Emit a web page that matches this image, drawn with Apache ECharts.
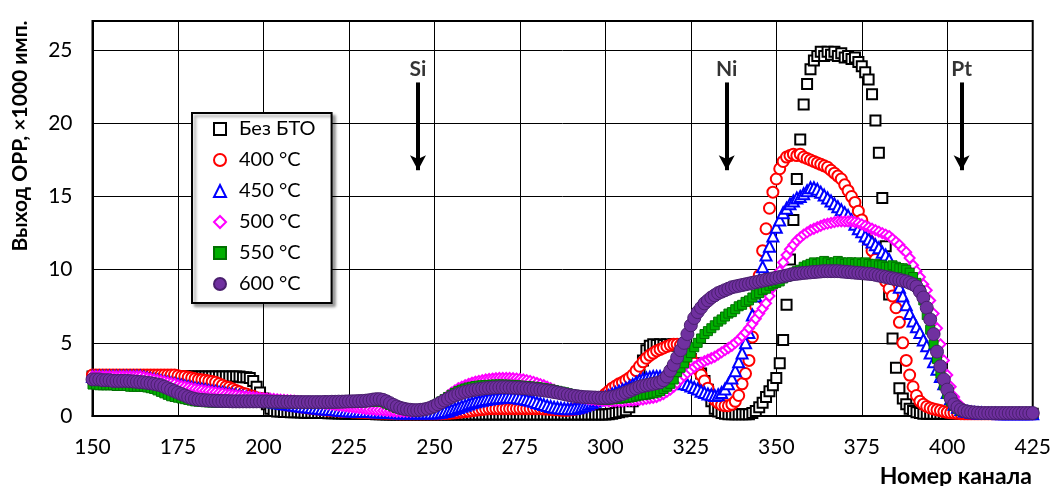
<!DOCTYPE html>
<html><head><meta charset="utf-8">
<script src="https://cdn.jsdelivr.net/npm/echarts@6/dist/echarts.min.js"></script>
<style>html,body{margin:0;padding:0;background:#fff}#c{width:1054px;height:486px}</style>
</head><body><div id="c"></div>
<script>
const FONT = "Lato, 'Open Sans', 'DejaVu Sans', sans-serif";
const firstChannel = 150, lastChannel = 425;
const channels = [];
for (let c = firstChannel; c <= lastChannel; c++) channels.push(c);
const seriesNames = ['Без БТО', '400 °C', '450 °C', '500 °C', '550 °C', '600 °C'];
const xAxisTitle = 'Номер канала';
const yAxisTitle = 'Выход ОРР, ×1000 имп.';
const elementLabels = ['Si', 'Ni', 'Pt'];
const elementChannels = [245.2, 335.5, 404.2];

// values per channel 150..425 (25 per row)
const bezBTO = [
2.7,2.7,2.7,2.7,2.7, 2.7,2.7,2.7,2.7,2.7, 2.7,2.7,2.7,2.7,2.7, 2.7,2.7,2.7,2.7,2.7, 2.7,2.7,2.7,2.7,2.7,
2.7,2.7,2.7,2.7,2.7, 2.7,2.7,2.7,2.7,2.7, 2.7,2.7,2.7,2.7,2.7, 2.7,2.7,2.7,2.7,2.65, 2.65,2.6,2.4,2.0,1.6,
1.2,0.8,0.5,0.35,0.3, 0.3,0.28,0.27,0.26,0.25, 0.25,0.24,0.23,0.22,0.22, 0.21,0.2,0.2,0.2,0.19, 0.18,0.18,0.17,0.17,0.16,
0.15,0.15,0.15,0.14,0.14, 0.13,0.13,0.13,0.12,0.12, 0.12,0.11,0.11,0.11,0.1, 0.1,0.1,0.1,0.1,0.1, 0.1,0.1,0.1,0.1,0.1,
0.1,0.1,0.1,0.1,0.1, 0.1,0.1,0.1,0.1,0.1, 0.1,0.1,0.1,0.1,0.1, 0.1,0.1,0.1,0.1,0.1, 0.1,0.1,0.1,0.1,0.1,
0.1,0.1,0.1,0.1,0.1, 0.1,0.1,0.1,0.1,0.1, 0.1,0.1,0.1,0.1,0.1, 0.1,0.1,0.1,0.1,0.1, 0.1,0.1,0.1,0.1,0.1,
0.1,0.12,0.15,0.2,0.25, 0.3,0.4,0.6,1.0,1.8, 2.8,3.8,4.5,4.8,4.9, 4.85,4.9,4.85,4.9,4.85, 4.9,4.8,4.7,4.5,4.2,
3.9,3.6,3.3,2.9,2.4, 1.8,1.0,0.5,0.3,0.2, 0.15,0.12,0.12,0.12,0.12, 0.12,0.12,0.12,0.2,0.35, 0.6,0.9,1.3,1.7,2.1,
2.6,3.6,5.2,7.6,10.7, 13.4,16.2,18.9,21.3,22.7, 23.7,24.3,24.6,24.9,24.6, 24.9,24.7,24.9,24.6,24.8, 24.5,24.6,24.4,24.5,24.2,
23.9,23.5,23.0,22.0,20.2, 18.0,14.9,11.6,8.3,5.3, 3.3,1.9,1.2,0.8,0.5, 0.35,0.25,0.2,0.15,0.15, 0.15,0.15,0.15,0.15,0.15,
0.15,0.15,0.15,0.15,0.15, 0.15,0.15,0.15,0.15,0.15, 0.15,0.15,0.15,0.15,0.15, 0.15,0.15,0.15,0.15,0.15, 0.15,0.15,0.15,0.15,0.15,
0.15];

const t400 = [
2.8,2.8,2.8,2.8,2.8, 2.8,2.8,2.8,2.8,2.8, 2.8,2.8,2.8,2.8,2.8, 2.8,2.8,2.8,2.8,2.8, 2.8,2.8,2.8,2.8,2.8,
2.75,2.7,2.7,2.65,2.6, 2.55,2.5,2.48,2.45,2.4, 2.35,2.3,2.2,2.1,2.0, 1.95,1.85,1.75,1.65,1.55, 1.5,1.4,1.35,1.25,1.2,
1.15,1.1,1.0,0.95,0.9, 0.85,0.8,0.75,0.72,0.7, 0.65,0.62,0.6,0.55,0.52, 0.5,0.47,0.45,0.42,0.4, 0.38,0.36,0.34,0.32,0.3,
0.3,0.28,0.27,0.26,0.25, 0.24,0.23,0.22,0.21,0.2, 0.2,0.19,0.18,0.17,0.16, 0.15,0.15,0.15,0.15,0.15, 0.15,0.15,0.15,0.15,0.15,
0.15,0.15,0.16,0.17,0.18, 0.2,0.22,0.25,0.28,0.3, 0.33,0.36,0.4,0.42,0.45, 0.47,0.5,0.5,0.5,0.5, 0.5,0.5,0.5,0.5,0.5,
0.5,0.5,0.5,0.5,0.5, 0.5,0.5,0.48,0.47,0.45, 0.43,0.42,0.4,0.4,0.4, 0.42,0.45,0.5,0.55,0.62, 0.7,0.8,0.95,1.1,1.3,
1.5,1.7,1.9,2.05,2.2, 2.3,2.45,2.6,2.8,3.1, 3.4,3.7,3.95,4.15,4.3, 4.45,4.55,4.65,4.75,4.85, 4.9,4.9,4.85,4.7,4.4,
4.0,3.6,3.2,2.8,2.4, 1.9,1.4,1.1,0.9,0.75, 0.7,0.7,0.8,1.0,1.4, 2.2,2.9,3.8,5.4,7.5, 9.6,11.3,12.8,14.2,15.3,
16.2,16.9,17.4,17.7,17.8, 17.9,17.8,17.9,17.7,17.6, 17.5,17.4,17.3,17.2,17.1, 17.0,16.8,16.6,16.4,16.2, 15.8,15.4,15.0,14.6,14.0,
13.4,12.7,12.0,11.3,10.7, 10.1,9.6,9.2,8.7,8.2, 7.4,6.4,5.0,3.8,2.8, 2.0,1.4,1.0,0.8,0.65, 0.55,0.48,0.42,0.37,0.3,
0.25,0.22,0.2,0.18,0.16, 0.15,0.15,0.15,0.15,0.15, 0.15,0.15,0.15,0.15,0.15, 0.15,0.15,0.15,0.15,0.15, 0.15,0.15,0.15,0.15,0.15,
0.15];

const t450 = [
2.7,2.7,2.7,2.7,2.7, 2.7,2.7,2.7,2.7,2.7, 2.7,2.7,2.7,2.7,2.7, 2.65,2.6,2.55,2.5,2.45, 2.4,2.35,2.3,2.25,2.2,
2.15,2.1,2.05,2.0,1.95, 1.9,1.87,1.83,1.8,1.75, 1.7,1.67,1.63,1.6,1.55, 1.5,1.47,1.43,1.4,1.35, 1.3,1.27,1.23,1.2,1.15,
1.1,1.05,1.0,0.95,0.9, 0.87,0.83,0.8,0.77,0.73, 0.7,0.67,0.64,0.61,0.58, 0.55,0.53,0.5,0.48,0.46, 0.44,0.42,0.4,0.38,0.36,
0.35,0.34,0.33,0.32,0.31, 0.3,0.3,0.29,0.28,0.27, 0.26,0.25,0.24,0.23,0.22, 0.21,0.2,0.2,0.2,0.2, 0.2,0.2,0.2,0.2,0.2,
0.2,0.22,0.25,0.3,0.35, 0.42,0.5,0.58,0.66,0.74, 0.82,0.9,0.97,1.03,1.08, 1.13,1.17,1.2,1.23,1.25, 1.27,1.28,1.28,1.27,1.25,
1.22,1.18,1.13,1.07,1.0, 0.93,0.85,0.78,0.71,0.65, 0.6,0.56,0.53,0.51,0.5, 0.5,0.52,0.56,0.62,0.7, 0.8,0.9,1.0,1.1,1.2,
1.3,1.4,1.5,1.6,1.7, 1.8,1.9,2.0,2.15,2.3, 2.45,2.55,2.6,2.65,2.7, 2.7,2.7,2.65,2.6,2.5, 2.4,2.3,2.25,2.2,2.15,
2.05,1.95,1.85,1.7,1.6, 1.5,1.45,1.4,1.45,1.6, 1.85,2.2,2.6,3.1,3.7, 4.3,5.0,5.7,6.9,8.2, 9.3,10.2,11.0,11.6,12.3,
12.9,13.4,13.9,14.2,14.5, 14.7,14.9,15.0,15.2,15.4, 15.6,15.6,15.5,15.3,15.1, 14.9,14.7,14.5,14.3,14.1, 13.9,13.7,13.4,13.1,12.8,
12.6,12.3,12.1,11.9,11.7, 11.5,11.2,11.0,10.7,10.1, 9.4,8.8,8.2,7.6,7.0, 6.5,6.1,5.7,5.2,4.8, 4.3,3.7,3.2,2.7,2.2,
1.6,1.2,0.8,0.6,0.45, 0.35,0.3,0.25,0.22,0.2, 0.2,0.18,0.18,0.17,0.17, 0.16,0.16,0.15,0.15,0.15, 0.15,0.15,0.15,0.15,0.15,
0.15];

const t500 = [
2.7,2.7,2.7,2.7,2.7, 2.7,2.7,2.7,2.7,2.7, 2.7,2.7,2.7,2.7,2.7, 2.65,2.6,2.55,2.5,2.45, 2.4,2.35,2.3,2.25,2.2,
2.1,2.05,2.0,1.95,1.9, 1.85,1.8,1.77,1.73,1.7, 1.65,1.62,1.58,1.55,1.5, 1.47,1.44,1.41,1.38,1.35, 1.32,1.3,1.28,1.26,1.24,
1.22,1.2,1.18,1.16,1.14, 1.12,1.1,1.08,1.06,1.04, 1.02,1.0,0.98,0.96,0.94, 0.92,0.9,0.87,0.84,0.81, 0.78,0.75,0.72,0.69,0.66,
0.63,0.6,0.57,0.54,0.51, 0.48,0.45,0.43,0.41,0.4, 0.38,0.36,0.34,0.32,0.3, 0.3,0.3,0.3,0.3,0.32, 0.35,0.4,0.45,0.52,0.6,
0.7,0.85,1.0,1.2,1.4, 1.6,1.75,1.9,2.0,2.1, 2.2,2.28,2.35,2.4,2.45, 2.5,2.53,2.56,2.58,2.6, 2.6,2.6,2.6,2.58,2.56,
2.53,2.5,2.45,2.4,2.33, 2.26,2.18,2.1,2.0,1.9, 1.8,1.7,1.62,1.55,1.48, 1.42,1.36,1.3,1.25,1.2, 1.16,1.12,1.09,1.06,1.04,
1.02,1.0,1.0,1.0,1.0, 1.0,1.02,1.04,1.06,1.08, 1.1,1.13,1.17,1.21,1.25, 1.3,1.4,1.5,1.65,1.8, 2.0,2.25,2.5,2.75,2.95,
3.15,3.35,3.5,3.65,3.75, 3.85,3.95,4.05,4.2,4.35, 4.5,4.65,4.8,5.0,5.2, 5.45,5.7,6.0,6.3,6.65, 7.0,7.35,7.7,8.2,8.8,
9.3,9.9,10.5,11.0,11.4, 11.7,12.0,12.2,12.4,12.55, 12.7,12.8,12.9,13.0,13.1, 13.15,13.2,13.25,13.3,13.3, 13.3,13.3,13.3,13.25,13.2,
13.1,13.0,12.9,12.8,12.7, 12.6,12.5,12.4,12.3,12.1, 11.9,11.7,11.4,11.2,10.8, 10.3,9.9,9.5,9.0,8.6, 7.9,7.0,6.0,4.9,3.8,
2.8,2.0,1.3,0.9,0.6, 0.45,0.35,0.3,0.27,0.25, 0.23,0.22,0.21,0.2,0.2, 0.2,0.2,0.2,0.2,0.2, 0.2,0.2,0.2,0.2,0.2,
0.2];

const t550 = [
2.15,2.15,2.1,2.1,2.1, 2.1,2.1,2.05,2.05,2.05, 2.05,2.0,2.0,2.0,2.0, 2.0,1.95,1.9,1.85,1.75, 1.65,1.55,1.45,1.35,1.3,
1.25,1.2,1.15,1.1,1.05, 1.0,0.98,0.96,0.94,0.93, 0.92,0.91,0.9,0.9,0.9, 0.9,0.9,0.9,0.9,0.9, 0.9,0.9,0.9,0.9,0.9,
0.9,0.9,0.88,0.88,0.87, 0.87,0.86,0.86,0.85,0.85, 0.85,0.85,0.85,0.85,0.85, 0.85,0.85,0.85,0.86,0.86, 0.87,0.87,0.88,0.88,0.89,
0.9,0.9,0.91,0.92,0.93, 0.94,0.96,0.98,1.0,1.0, 0.95,0.85,0.75,0.65,0.55, 0.47,0.42,0.38,0.36,0.35, 0.36,0.38,0.42,0.5,0.6,
0.72,0.85,1.0,1.15,1.3, 1.45,1.58,1.7,1.8,1.88, 1.95,2.0,2.05,2.08,2.1, 2.12,2.13,2.14,2.15,2.15, 2.15,2.14,2.13,2.12,2.1,
2.08,2.06,2.04,2.02,2.0, 1.97,1.94,1.9,1.86,1.82, 1.77,1.72,1.67,1.62,1.56, 1.5,1.45,1.4,1.35,1.3, 1.25,1.2,1.17,1.14,1.12,
1.1,1.12,1.14,1.16,1.18, 1.2,1.23,1.26,1.3,1.35, 1.4,1.43,1.46,1.5,1.55, 1.6,1.7,1.85,2.0,2.2, 2.5,3.0,3.3,3.6,4.0,
4.3,4.7,5.0,5.3,5.6, 5.8,6.0,6.2,6.45,6.6, 6.8,7.0,7.1,7.3,7.5, 7.6,7.8,7.9,8.1,8.3, 8.4,8.6,8.7,8.9,9.0,
9.1,9.2,9.4,9.5,9.6, 9.8,9.9,10.0,10.2,10.3, 10.4,10.5,10.4,10.5,10.6, 10.5,10.4,10.5,10.6,10.5, 10.4,10.5,10.5,10.4,10.5,
10.4,10.5,10.4,10.3,10.4, 10.3,10.3,10.2,10.2,10.3, 10.2,10.1,10.1,10.0,9.8, 9.5,9.1,8.6,7.9,6.9, 5.9,4.9,3.9,2.9,2.1,
1.5,1.0,0.7,0.5,0.35, 0.3,0.25,0.22,0.2,0.2, 0.18,0.18,0.17,0.17,0.16, 0.16,0.15,0.15,0.15,0.15, 0.15,0.15,0.15,0.15,0.15,
0.15];

const t600 = [
2.5,2.5,2.5,2.45,2.45, 2.45,2.4,2.4,2.4,2.4, 2.4,2.38,2.36,2.34,2.32, 2.3,2.27,2.24,2.2,2.15, 2.1,2.0,1.9,1.8,1.7,
1.6,1.5,1.4,1.3,1.22, 1.16,1.12,1.1,1.08,1.06, 1.05,1.04,1.03,1.02,1.02, 1.01,1.0,1.0,1.0,1.0, 1.0,1.0,1.0,1.0,1.0,
1.0,1.0,0.99,0.98,0.98, 0.97,0.97,0.96,0.96,0.96, 0.95,0.95,0.95,0.95,0.95, 0.95,0.95,0.95,0.96,0.96, 0.97,0.97,0.98,0.98,0.99,
1.0,1.0,1.01,1.02,1.03, 1.05,1.08,1.12,1.15,1.15, 1.1,1.0,0.88,0.76,0.65, 0.56,0.5,0.45,0.42,0.4, 0.4,0.42,0.45,0.5,0.58,
0.68,0.8,0.93,1.06,1.18, 1.3,1.4,1.5,1.58,1.65, 1.71,1.76,1.8,1.84,1.87, 1.9,1.92,1.94,1.95,1.96, 1.96,1.96,1.95,1.94,1.93,
1.92,1.9,1.88,1.86,1.84, 1.81,1.78,1.75,1.72,1.68, 1.64,1.6,1.55,1.5,1.45, 1.4,1.37,1.34,1.31,1.29, 1.28,1.27,1.26,1.25,1.25,
1.25,1.27,1.3,1.35,1.42, 1.5,1.6,1.7,1.8,1.9, 2.0,2.05,2.1,2.15,2.2, 2.25,2.3,2.45,2.7,3.1, 3.5,4.0,4.5,5.0,5.6,
6.2,6.7,7.1,7.4,7.7, 7.9,8.1,8.25,8.4,8.5, 8.6,8.7,8.8,8.85,8.9, 8.95,9.0,9.05,9.1,9.15, 9.2,9.25,9.3,9.35,9.4,
9.45,9.5,9.55,9.6,9.65, 9.7,9.72,9.75,9.78,9.8, 9.82,9.84,9.86,9.88,9.9, 9.9,9.9,9.9,9.9,9.88, 9.86,9.84,9.82,9.8,9.78,
9.76,9.74,9.72,9.7,9.65, 9.6,9.55,9.5,9.45,9.4, 9.35,9.3,9.25,9.2,9.1, 9.0,8.85,8.5,8.1,7.4, 6.6,5.6,4.4,3.4,2.5,
1.8,1.2,0.8,0.6,0.45, 0.35,0.3,0.26,0.24,0.22, 0.2,0.2,0.2,0.2,0.2, 0.2,0.2,0.2,0.2,0.2, 0.2,0.2,0.2,0.2,0.2,
0.2];

const seriesValues = [bezBTO, t400, t450, t500, t550, t600];
const symbols = ['emptyRect', 'emptyCircle', 'emptyTriangle', 'emptyDiamond', 'rect', 'circle'];
const sizes = [10, 11, 11, 10, 9, 13];
const colors = ['#000000', '#ff0000', '#0000ff', '#ff00ff', '#00b000', '#7030a0'];
const borders = ['#000000', '#ff0000', '#0000ff', '#ff00ff', '#007000', '#4a1f6e'];
const borderWidths = [2, 2, 2, 2, 1, 1];

const series = seriesNames.map((name, k) => ({
  name: name,
  type: 'scatter',
  data: channels.map((c, i) => [c, seriesValues[k][i]]),
  symbol: symbols[k],
  symbolSize: sizes[k],
  itemStyle: { color: colors[k], borderColor: borders[k], borderWidth: borderWidths[k], opacity: 1 },
  emphasis: { disabled: true },
  z: 2 + k,
  silent: true
}));

const labelY = 23.7, arrowTop = 22.8, arrowBottom = 16.8;
series.push({
  name: 'notes',
  type: 'scatter',
  data: elementChannels.map((c, i) => ({ value: [c, labelY], name: elementLabels[i] })),
  symbolSize: 1,
  itemStyle: { color: 'rgba(0,0,0,0)' },
  label: { show: true, position: 'inside', formatter: '{b}', fontFamily: FONT, fontSize: 21, fontWeight: 'bold', color: '#000' },
  silent: true,
  z: 10,
  markLine: {
    silent: true,
    symbol: ['none', 'arrow'],
    symbolSize: [12, 15],
    label: { show: false },
    lineStyle: { color: '#000', width: 4, type: 'solid' },
    emphasis: { disabled: true },
    animation: false,
    data: elementChannels.map(c => [{ coord: [c, arrowTop] }, { coord: [c, arrowBottom] }])
  }
});

const chart = echarts.init(document.getElementById('c'), null, { renderer: 'canvas' });
chart.setOption({
  animation: false,
  backgroundColor: '#fff',
  grid: { left: 92.5, right: 21, top: 21, bottom: 70, show: true, borderColor: '#000', borderWidth: 2, backgroundColor: 'transparent' },
  xAxis: {
    type: 'value', min: 150, max: 425, interval: 25,
    axisLine: { show: true, lineStyle: { color: '#000', width: 2 } },
    axisTick: { show: false },
    axisLabel: { fontFamily: FONT, fontSize: 21, color: '#000', margin: 21 },
    splitLine: { show: true, lineStyle: { color: '#000', width: 1 } }
  },
  yAxis: {
    type: 'value', min: 0, max: 27, interval: 5,
    axisLine: { show: true, lineStyle: { color: '#000', width: 2 } },
    axisTick: { show: false },
    axisLabel: { fontFamily: FONT, fontSize: 21, color: '#000', margin: 20, showMaxLabel: false,
      formatter: v => (v > 25 ? '' : String(v)) },
    splitLine: { show: true, lineStyle: { color: '#000', width: 1 } }
  },
  legend: {
    data: seriesNames, orient: 'vertical', left: 192, top: 113,
    padding: [6, 16, 9, 21], itemGap: 11, itemWidth: 12, itemHeight: 12,
    backgroundColor: '#fff', borderColor: '#000', borderWidth: 2, borderRadius: 0,
    shadowColor: 'rgba(0,0,0,0.35)', shadowBlur: 3, shadowOffsetX: 3, shadowOffsetY: 3,
    textStyle: { fontFamily: FONT, fontSize: 20, color: '#000', padding: [0, 0, 0, 8] },
    selectedMode: false
  },
  graphic: [
    { type: 'text', x: 20, y: 136, rotation: Math.PI / 2,
      style: { text: yAxisTitle, font: 'bold 21px ' + FONT, fill: '#000', align: 'center', verticalAlign: 'middle' } },
    { type: 'text', x: 1032, y: 477,
      style: { text: xAxisTitle, font: 'bold 23px ' + FONT, fill: '#000', align: 'right', verticalAlign: 'middle' } }
  ],
  series: series
});
</script>
</body></html>
